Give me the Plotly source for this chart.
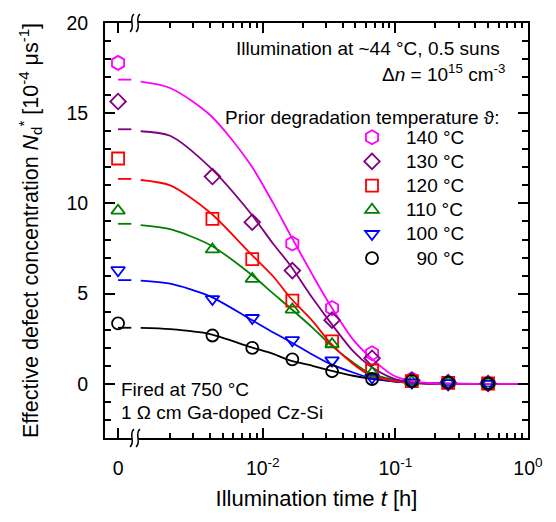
import plotly.graph_objects as go

# Illumination times [h] of the lifetime measurements (t = 0 is the initial state)
TIME_H = [0, 0.00417, 0.00833, 0.0167, 0.0333, 0.0667, 0.133, 0.25, 0.5]

# Prior degradation temperatures
TEMPS = ["140 °C", "130 °C", "120 °C", "110 °C", "100 °C", "90 °C"]

# Effective defect concentration N_d* [1e-4 / us]
ND_140 = [17.79, None, None, 7.78, 4.20, 1.70, 0.25, 0.08, 0.03]
ND_130 = [15.65, 11.49, 8.96, 6.28, 3.53, 1.42, 0.20, 0.07, 0.02]
ND_120 = [12.49, 9.14, 6.91, 4.61, 2.35, 0.74, 0.15, 0.05, 0.02]
ND_110 = [9.60, 7.45, 5.82, 4.12, 2.20, 0.60, 0.12, 0.06, 0.03]
ND_100 = [6.30, 4.70, 3.65, 2.42, 1.30, 0.35, 0.08, 0.04, 0.00]
ND_90 = [3.35, 2.68, 1.99, 1.36, 0.70, 0.27, 0.15, 0.07, 0.02]

# Fitted decay curves: value at t = 0 and samples along the fit
FIT_T = [0.0012, 0.002, 0.004, 0.008, 0.012, 0.016, 0.024, 0.032,
         0.048, 0.064, 0.096, 0.128, 0.2, 0.4, 1.0]
FIT_START = [16.86, 14.11, 11.36, 8.87, 5.75, 3.11]
FIT_140 = [16.75, 16.40, 14.90, 12.20, 10.00, 8.30, 5.97, 4.40, 2.45, 1.50, 0.48, 0.18, 0.02, 0, 0]
FIT_130 = [14.00, 13.75, 12.00, 9.50, 7.75, 6.60, 4.70, 3.45, 1.81, 1.00, 0.30, 0.10, 0.01, 0, 0]
FIT_120 = [11.30, 11.00, 9.50, 7.25, 5.95, 4.80, 3.44, 2.30, 1.10, 0.50, 0.17, 0.06, 0.005, 0, 0]
FIT_110 = [8.80, 8.57, 7.70, 6.12, 5.00, 4.22, 3.08, 2.20, 1.18, 0.60, 0.23, 0.08, 0.01, 0, 0]
FIT_100 = [5.72, 5.55, 4.85, 3.60, 2.85, 2.35, 1.60, 1.12, 0.63, 0.35, 0.14, 0.06, 0.01, 0, 0]
FIT_90 = [3.10, 3.03, 2.76, 2.05, 1.66, 1.30, 0.99, 0.75, 0.45, 0.29, 0.14, 0.07, 0.02, 0, 0]

# X tick labels
XTICK_TEXT = ["0", "10<sup>-2</sup>", "10<sup>-1</sup>", "10<sup>0</sup>"]

COLORS = ["#ff00ff", "#800080", "#ff0000", "#008000", "#0000ff", "#000000"]
SYMBOLS = ["hexagon-open", "diamond-open", "square-open", "triangle-up-open",
           "triangle-down-open", "circle-open"]
SIZES = [14, 12, 12, 12, 12, 12]

# Where t = 0 sits on the broken log axis, and the left edge of the axis break
T_ZERO_POS = 8.1e-4
BREAK_LEFT = 1.02e-3

MEASURED = [ND_140, ND_130, ND_120, ND_110, ND_100, ND_90]
FITS = [FIT_140, FIT_130, FIT_120, FIT_110, FIT_100, FIT_90]

FONT = "Liberation Sans, Arial, sans-serif"
TEXT_SIZE = 19


def to_display_time(t):
    return T_ZERO_POS if t == 0 else t


fig = go.Figure()

# fit curves (90 °C first so the 140 °C curve lies on top)
for i in reversed(range(len(TEMPS))):
    xs = [T_ZERO_POS, BREAK_LEFT, None] + FIT_T
    ys = [FIT_START[i], FIT_START[i], None] + FITS[i]
    fig.add_trace(go.Scatter(
        x=xs, y=ys, mode="lines", showlegend=False, hoverinfo="skip",
        line=dict(color=COLORS[i], width=1.8, shape="spline", smoothing=0.8),
        connectgaps=False,
    ))

# measured points
for i, label in enumerate(TEMPS):
    name = label if len(label) > 5 else "\u00a0\u00a0" + label
    fig.add_trace(go.Scatter(
        x=[to_display_time(t) for t in TIME_H], y=MEASURED[i],
        mode="markers", name=f"<span style='font-size:{TEXT_SIZE}px'>{name}</span>",
        legendrank=i + 1,
        marker=dict(symbol=SYMBOLS[i], size=SIZES[i], color=COLORS[i],
                    line=dict(color=COLORS[i], width=1.8)),
    ))

# layout geometry in pixels (for the axis-break decoration and text placement)
L, R, T, B = 105, 528, 15, 438
PW, PH = R - L, B - T


def px(x):
    return (x - L) / PW


def py(y):
    return (B - y) / PH


shapes = []
for cy in (T, B):
    cx = 135
    shapes.append(dict(type="rect", xref="paper", yref="paper",
                       x0=px(cx - 3), x1=px(cx + 3), y0=py(cy + 2.5), y1=py(cy - 2.5),
                       fillcolor="white", line=dict(width=0), layer="above"))
    for dx in (-3, 3):
        x = cx + dx
        path = (f"M {px(x + 2)},{py(cy - 9)} "
                f"C {px(x - 4)},{py(cy - 4)} {px(x + 4)},{py(cy + 4)} {px(x - 2)},{py(cy + 9)}")
        shapes.append(dict(type="path", xref="paper", yref="paper", path=path,
                           line=dict(color="black", width=1.5), layer="above"))

annotations = [
    dict(text="Illumination at ~44 °C, 0.5 suns", x=px(502), y=py(41),
         xanchor="right", yanchor="middle"),
    dict(text="\u0394<i>n</i> = 10<sup>15</sup> cm<sup>-3</sup>", x=px(507), y=py(66),
         xanchor="right", yanchor="middle"),
    dict(text="Prior degradation temperature \u03d1:", x=px(501), y=py(111),
         xanchor="right", yanchor="middle"),
    dict(text="Fired at 750 °C", x=px(119), y=py(389),
         xanchor="left", yanchor="middle"),
    dict(text="1 \u03a9 cm Ga-doped Cz-Si", x=px(119), y=py(412),
         xanchor="left", yanchor="middle"),
]
for a in annotations:
    a.update(xref="paper", yref="paper", showarrow=False,
             font=dict(size=TEXT_SIZE, color="black", family=FONT))

minor_x = [m * 10 ** e for e in (-3, -2, -1) for m in range(2, 10)]

fig.update_layout(
    width=556, height=522,
    margin=dict(l=L, r=556 - R, t=T, b=522 - B),
    paper_bgcolor="white", plot_bgcolor="white",
    font=dict(family=FONT, color="black"),
    shapes=shapes, annotations=annotations,
    legend=dict(x=px(338), y=py(114), xanchor="left", yanchor="top",
                bgcolor="rgba(0,0,0,0)", borderwidth=0, itemwidth=58,
                font=dict(size=16.3, family=FONT, color="black"),
                tracegroupgap=0),
    xaxis=dict(
        type="log", range=[-3.19, 0.0],
        tickmode="array", tickvals=[T_ZERO_POS, 0.01, 0.1, 1], ticktext=XTICK_TEXT,
        ticks="inside", ticklen=10, tickwidth=1.8, tickcolor="black",
        showline=True, linewidth=2, linecolor="black", mirror="ticks",
        showgrid=False, zeroline=False,
        minor=dict(tickmode="array", tickvals=minor_x, ticks="inside",
                   ticklen=5, tickwidth=1.5, tickcolor="black", showgrid=False),
        tickfont=dict(size=19.5, family=FONT),
        ticklabelstandoff=12,
        title=dict(text="Illumination time <i>t</i> [h]",
                   font=dict(size=22, family=FONT), standoff=12),
    ),
    yaxis=dict(
        range=[-3, 20],
        tickmode="array", tickvals=[0, 5, 10, 15, 20],
        ticks="inside", ticklen=10, tickwidth=1.8, tickcolor="black",
        showline=True, linewidth=2, linecolor="black", mirror="ticks",
        showgrid=False, zeroline=False,
        minor=dict(dtick=1, tick0=0, ticks="inside", ticklen=6, tickwidth=1.5,
                   tickcolor="black", showgrid=False),
        tickfont=dict(size=19.5, family=FONT),
        ticklabelstandoff=11,
        title=dict(text="Effective defect concentration <i>N</i><sub>d</sub><sup>*</sup>"
                        " [10<sup>-4</sup> \u03bcs<sup>-1</sup>]",
                   font=dict(size=21.5, family=FONT), standoff=22),
    ),
)

fig.write_html("out.html")
